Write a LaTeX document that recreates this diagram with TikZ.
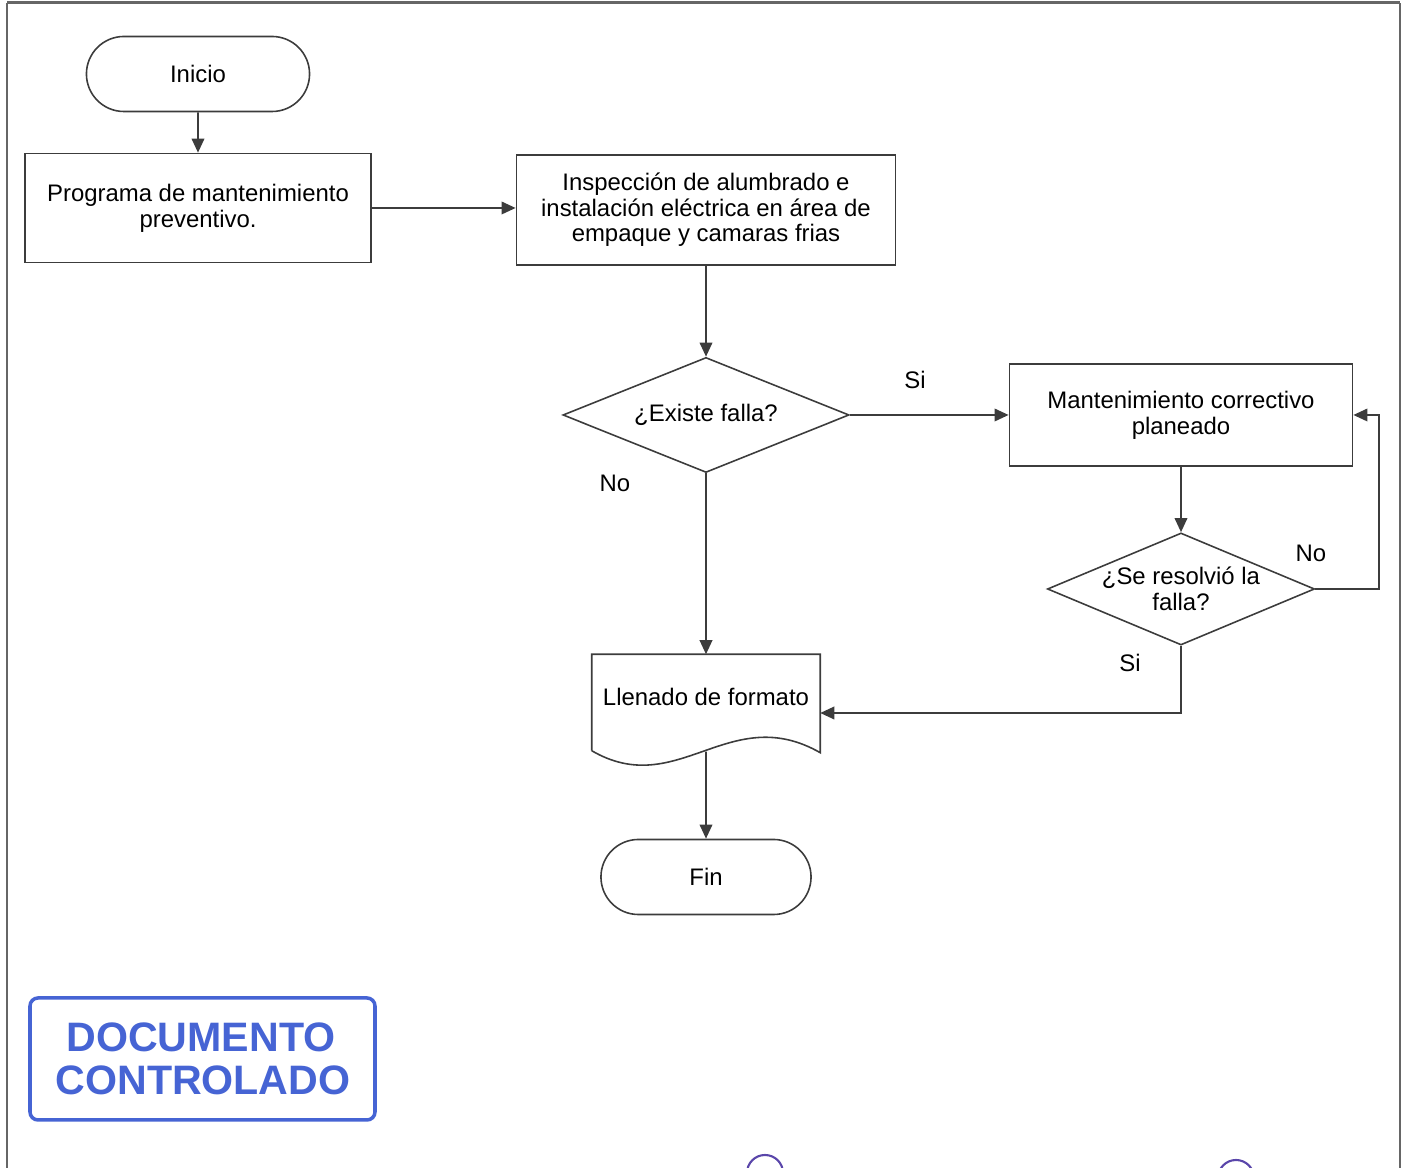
\documentclass[tikz,border=0pt]{standalone}
\usepackage{fontspec}
\setmainfont{Liberation Sans}
\usepackage{xcolor}
\usetikzlibrary{shapes.geometric}
\usetikzlibrary{shapes.misc}
\usetikzlibrary{arrows.meta}
\definecolor{stampblue}{RGB}{70,100,212}
\definecolor{inkline}{RGB}{60,60,60}
\definecolor{penmark}{RGB}{90,70,170}

\begin{document}
\begin{tikzpicture}[
			     x=0.01cm, y=-0.01cm,
			     font=\fontsize{6.8}{7.3}\selectfont,
			     >={Triangle[length=4pt,width=3.6pt]},
			     process/.style={draw=inkline, line width=0.45pt, rectangle, align=center, inner sep=0pt},
			     terminal/.style={draw=inkline, line width=0.45pt, rounded rectangle, inner sep=0pt, minimum height=0.75cm},
			     decision/.style={draw=inkline, line width=0.45pt, diamond, aspect=2.45, align=center, inner sep=0pt},
			     normal line/.style={->, draw=inkline, line width=0.45pt},
			     plain line/.style={draw=inkline, line width=0.45pt},
			     stamp text/.style={text=stampblue, font=\fontsize{11.7}{14}\selectfont\bfseries}
			     ]
\useasboundingbox (0,0) rectangle (1405,1168);
\clip (0,0) rectangle (1405,1168);
% page frame
\draw[gray!80!black, line width=0.85pt] (1400,3) -- (7,3);
\draw[gray!80!black, line width=0.6pt] (7,1168) -- (7,3);
\draw[gray!80!black, line width=0.6pt] (1400,1168) -- (1400,3);
%
\node[terminal, minimum width=2.23cm] (inicio) at (198,74) {Inicio};
\node[process, minimum width=3.46cm, minimum height=1.09cm] (prog) at (198,208) {Programa de mantenimiento\\preventivo.};
\node[process, minimum width=3.79cm, minimum height=1.10cm] (insp) at (706,210) {Inspección de alumbrado e\\instalación eléctrica en área de\\empaque y camaras frias};
\node[decision, minimum width=2.86cm, minimum height=1.15cm] (falla) at (706,415) {¿Existe falla?};
\node[process, minimum width=3.43cm, minimum height=1.02cm] (mant) at (1181,415) {Mantenimiento correctivo\\planeado};
\node[decision, minimum width=2.67cm, minimum height=1.12cm] (resol) at (1181,589) {¿Se resolvió la\\falla?};
\node[inner sep=0pt, minimum width=2.27cm, minimum height=0.84cm] (llen) at (706,697) {Llenado de formato};
\node[terminal, minimum width=2.10cm] (fin) at (706,877) {Fin};
%
\draw[plain line] ([yshift=-0.11cm]llen.south west) -- (llen.north west) -- (llen.north east) -- ([yshift=-0.13cm]llen.south east) .. controls +(-91,-52) and +(86,50) .. ([yshift=-0.11cm]llen.south west);
\coordinate (llenbot) at ([yshift=-0.12cm]llen.south);
\coordinate (noturn) at (1379,589);
%
\draw[normal line] (inicio) -- (prog);
\draw[normal line] (prog.east) -- (prog.east -| insp.west);
\draw[normal line] (insp) -- (falla);
\draw[normal line] (falla) -- (mant);
\draw[normal line] (falla) -- (llen);
\draw[normal line] (mant) -- (resol);
\draw[normal line] (resol.east) -- (noturn) |- (mant.east);
\draw[normal line] (resol.south) |- ([yshift=-0.16cm]llen.east);
\draw[normal line] (llenbot) -- (fin);
%
\node (sifalla) at (915,380) {Si};
\node (nofalla) at (615,483) {No};
\node (noresol) at (1311,553) {No};
\node (siresol) at (1130,663) {Si};
% stamp
\draw[stampblue, line width=1pt, rounded corners=0.08cm] (30,998) rectangle (375,1120);
\node[stamp text] (docu) at (201,1037) {DOCUMENTO};
\node[stamp text] (contr) at (203,1080) {CONTROLADO};
%
\draw[penmark, line width=0.6pt] (765,1173) circle (18);
\draw[penmark, line width=0.6pt] (1236,1178) circle (18);
\end{tikzpicture}
\end{document}
